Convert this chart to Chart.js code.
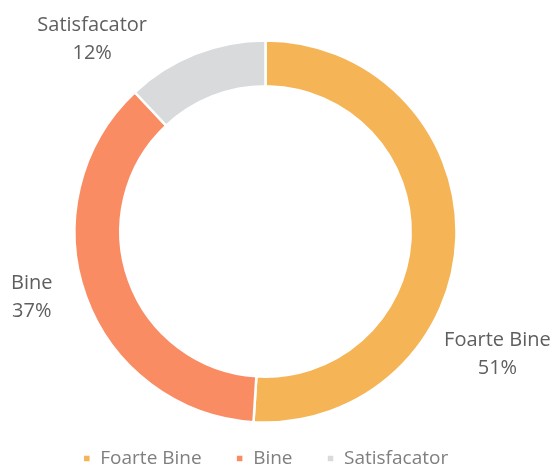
<!DOCTYPE html>
<html>
<head>
<meta charset="utf-8">
<script src="https://cdn.jsdelivr.net/npm/chart.js@4"></script>
<style>
  html, body { margin: 0; padding: 0; background: #fff; }
  #wrap { width: 554px; height: 469px; }
</style>
</head>
<body>
<div id="wrap"><canvas id="myChart"></canvas></div>
<script>
// Chart values
var categories = ['Foarte Bine', 'Bine', 'Satisfacator'];
var values = [51, 37, 12];
var colors = ['#F5B455', '#FA8C64', '#D9DADC'];

// Draws the "name / percent" labels outside the ring
var outerLabels = {
    id: 'outerLabels',
    afterDatasetsDraw: function (chart, args, opts) {
        var ctx = chart.ctx;
        var meta = chart.getDatasetMeta(0);
        var data = chart.data.datasets[0].data;
        var total = data.reduce(function (a, b) { return a + b; }, 0);
        ctx.save();
        ctx.font = opts.size + 'px "Open Sans"';
        ctx.fillStyle = opts.color;
        ctx.textAlign = 'center';
        ctx.textBaseline = 'middle';
        meta.data.forEach(function (arc, i) {
            var p = arc.getProps(['x', 'y', 'startAngle', 'endAngle', 'outerRadius'], true);
            var mid = (p.startAngle + p.endAngle) / 2;
            var off = opts.offsets[i];
            var cx = p.x + Math.cos(mid) * p.outerRadius + off[0];
            var cy = p.y + Math.sin(mid) * p.outerRadius + off[1];
            var pct = Math.round(data[i] / total * 100) + '%';
            ctx.fillText(chart.data.labels[i], cx, cy - opts.lineGap / 2);
            ctx.fillText(pct, cx, cy + opts.lineGap / 2);
        });
        ctx.restore();
    }
};

var ctx = document.getElementById('myChart').getContext('2d');
var myChart = new Chart(ctx, {
    type: 'doughnut',
    data: {
        labels: categories,
        datasets: [{
            data: values,
            backgroundColor: colors,
            borderColor: '#ffffff',
            borderWidth: 2.5,
            clip: false
        }]
    },
    options: {
        responsive: true,
        maintainAspectRatio: false,
        animation: false,
        radius: 191,
        cutout: '76%',
        layout: {
            padding: { top: 48, bottom: -9, left: 20, right: 43 }
        },
        plugins: {
            tooltip: { enabled: false },
            legend: {
                position: 'bottom',
                labels: {
                    usePointStyle: true,
                    pointStyle: 'rect',
                    boxWidth: 8,
                    boxHeight: 8,
                    padding: 34,
                    color: '#7f7f7f',
                    font: { family: '"Open Sans"', size: 19 }
                }
            },
            outerLabels: {
                offsets: [[41, 117], [-54, 1], [-103, -15]],
                size: 20,
                lineGap: 28,
                color: '#5f5f5f'
            }
        }
    },
    plugins: [outerLabels]
});
</script>
</body>
</html>
